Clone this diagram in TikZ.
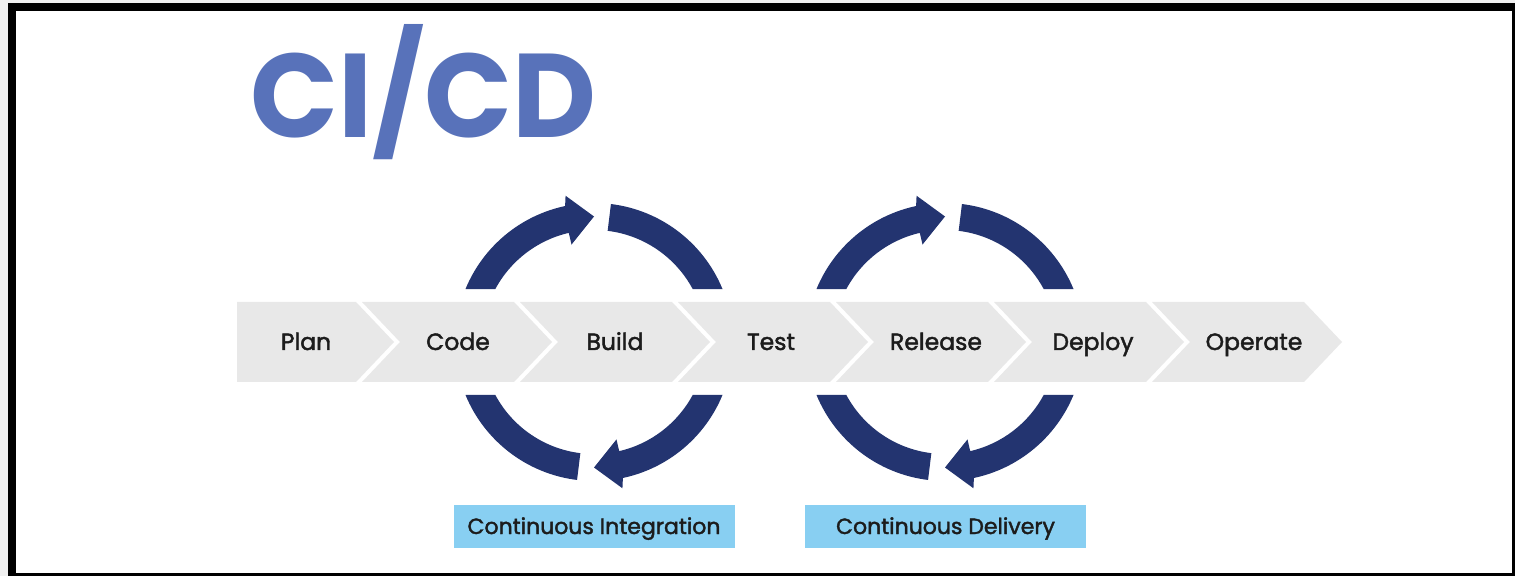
\documentclass[tikz,border=0pt]{standalone}
\usepackage{fontspec}
\setmainfont{Poppins}
\newfontfamily\stagefont{Poppins}[FakeBold=1.8]
\usepackage{xcolor}
\usepackage{tikz}

\definecolor{titleblue}{HTML}{5872BA}
\definecolor{ringnavy}{HTML}{233470}
\definecolor{phaseblue}{HTML}{88CFF2}
\definecolor{stagegray}{HTML}{E8E8E8}
\definecolor{textdark}{HTML}{1C1C1C}

\begin{document}
\begin{tikzpicture}[
    x=1pt, y=1pt,
    stage/.style={fill=stagegray},
    stagetext/.style={
        anchor=base, inner sep=0pt,
        text=textdark,
        font=\stagefont\fontsize{23.5}{23.5}\selectfont
    },
    ringpart/.style={fill=ringnavy},
    phasebox/.style={
        rectangle, fill=phaseblue,
        minimum width=281pt, minimum height=43pt,
        text height=15pt, text depth=0pt,
        inner sep=0pt, text=textdark,
        font=\stagefont\fontsize{22}{22}\selectfont
    }
]
\useasboundingbox (0,0) rectangle (1515,576);

% Frame
\fill[black!6] (0,0) rectangle (1515,576);
\fill[black] (8,0) rectangle (1515,573);
\fill[white] (16,3) rectangle (1512,565);

\begin{scope}[shift={(250,438)}, xscale=0.97]
    \node[anchor=base west, inner sep=0pt, text=titleblue, transform shape,
          font=\fontsize{119}{119}\selectfont\bfseries] (title) at (0,0) {CI/CD};
\end{scope}

% Pipeline band
\fill[stage] (237,274) -- (356,274) -- (394,234) -- (356,194) -- (237,194) -- cycle;
\foreach \i in {1,...,6} {
    \pgfmathsetmacro\R{356+158*\i}
    \pgfmathsetmacro\L{\R-152}
    \fill[stage] (\L,274) -- (\R,274) -- (\R+38,234) -- (\R,194)
        -- (\L,194) -- (\L+38,234) -- cycle;
}

\foreach \x/\name/\txt in {306/plan/Plan, 458/code/Code, 615/build/Build,
        771/test/Test, 936/release/Release, 1093/deploy/Deploy, 1254/operate/Operate}
    \node[stagetext] (\name) at (\x,226) {\txt};

% Loops
\foreach \cx in {594,945}
    \foreach \rot in {0,180} {
        \begin{scope}[shift={(\cx,234)}, rotate=\rot]
            \fill[ringpart] (157.6:139) arc[start angle=157.6, end angle=102, radius=139pt]
                -- (101:149) -- (90:125.5) -- (103:100) -- (103:112)
                arc[start angle=103, end angle=151.8, radius=112pt] -- cycle;
            \fill[ringpart] (83:139) arc[start angle=83, end angle=22.4, radius=139pt]
                -- (28.2:112) arc[start angle=28.2, end angle=83, radius=112pt] -- cycle;
        \end{scope}
    }

\node[phasebox] (ci) at (594,49.5) {Continuous Integration};
\node[phasebox] (cd) at (945.5,49.5) {Continuous Delivery};

\end{tikzpicture}
\end{document}
